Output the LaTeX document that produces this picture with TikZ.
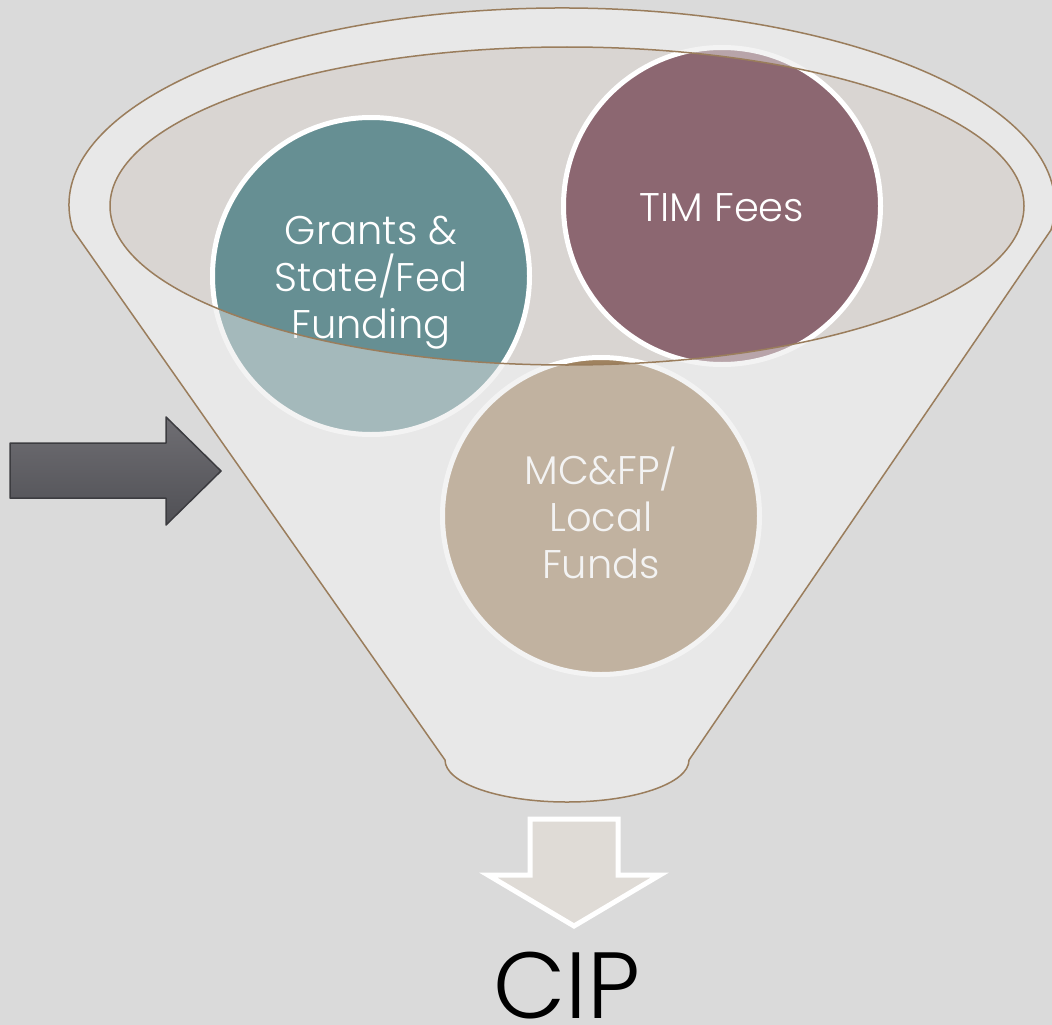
\documentclass[tikz,border=0pt]{standalone}
\usepackage{fontspec}
\setmainfont{Poppins}[UprightFont={* Light}]
\definecolor{bgc}{HTML}{DADADA}
\definecolor{funnelc}{HTML}{E8E8E8}
\definecolor{innerc}{HTML}{D9D5D2}
\definecolor{rimc}{HTML}{9A7D5C}
\definecolor{tealc}{HTML}{668F93}
\definecolor{mauvec}{HTML}{8C6771}
\definecolor{tanc}{HTML}{9F825F}
\definecolor{arrowtop}{HTML}{6F6E73}
\definecolor{arrowbot}{HTML}{505055}
\definecolor{arrowedge}{HTML}{3C3C40}
\definecolor{downc}{HTML}{DFDBD6}
\begin{document}
\begin{tikzpicture}[x=1pt,y=-1pt,
  bubble/.style={circle, draw=white, line width=5pt, minimum size=317pt, inner sep=0pt},
  bubbletext/.style={inner sep=0pt, text=white, align=center, font=\fontsize{40}{47}\selectfont},
  rim/.style={draw=rimc, line width=1.5pt}]
\useasboundingbox (0,0) rectangle (1052,1025);
\fill[bgc] (0,0) rectangle (1052,1025);
\def\funnel{(73,230) arc[start angle=172.7, end angle=367.3, x radius=493, y radius=197] -- (689,760) arc[start angle=0, end angle=180, x radius=122, y radius=42] -- cycle}
% funnel body
\fill[funnelc] \funnel;
% opening
\fill[innerc] (567,206) ellipse[x radius=457, y radius=159];
% bubbles
\node[bubble, fill=tealc] (grants) at (371,276) {};
\node[bubble, fill=mauvec] (tim) at (722,206) {};
\node[bubble, fill=tanc] (mcfp) at (601,516) {};
\node[bubbletext] (grantstext) at (371,283) {Grants \&\\State/Fed\\Funding};
\node[bubbletext] (timtext) at (722,208) {TIM Fees};
\node[bubbletext] (mcfptext) at (601,513) {MC\&FP/\\Local\\Funds};
% translucent funnel wall over bubbles
\fill[funnelc, fill opacity=0.48, even odd rule] \funnel (567,206) ellipse[x radius=457, y radius=159];
% outlines
\draw[rim] \funnel;
\draw[rim] (567,206) ellipse[x radius=457, y radius=159];
% input arrow
\draw[draw=arrowedge, line width=1.5pt, line join=round, top color=arrowtop, bottom color=arrowbot]
  (10,443) -- (166,443) -- (166,417) -- (221,471) -- (166,525) -- (166,498) -- (10,498) -- cycle;
% output arrow
\draw[draw=white, line width=5pt, fill=downc, line join=miter]
  (530,819) -- (618,819) -- (618,875) -- (660,875) -- (574,926) -- (488,875) -- (530,875) -- cycle;
\node[anchor=base, inner sep=0pt, font=\fontsize{94}{100}\selectfont, text=black] (cip) at (567,1018) {CIP};
\end{tikzpicture}
\end{document}
